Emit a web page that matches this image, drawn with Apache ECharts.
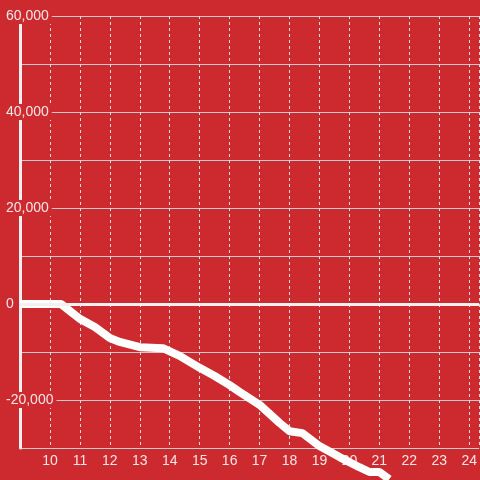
<!DOCTYPE html>
<html>
<head>
    <meta charset="utf-8">
    <title>ECharts</title>
    <script src="https://cdn.jsdelivr.net/npm/echarts@6/dist/echarts.min.js"></script>
</head>
<style>
html,
body {
    margin: 0px;
    width: 100%;
    height: 100%;
    background: #cd2a2f;
}
div#main {
    width: 480px;
    height: 480px;
}
</style>
<body>
    <div id="main"></div>
    <script type="text/javascript">
        // hour of day and running total
        var hours = [9.0, 10.37, 11.0, 11.5, 12.0, 12.33, 13.0, 13.77, 14.33, 15.0, 15.5, 16.0, 16.33, 17.0, 17.67, 18.0, 18.43, 19.0, 19.67, 20.33, 20.67, 21.0, 21.33];
        var values = [0, 0, -3100, -4800, -7100, -7900, -9000, -9200, -10800, -13300, -15000, -16900, -18300, -21000, -24800, -26500, -26900, -29600, -31900, -34000, -35000, -35000, -36500];
        var yTicks = [-20000, 0, 20000, 40000, 60000];

        var red = '#cd2a2f';
        var myChart = echarts.init(document.getElementById('main'));
        myChart.setOption({
            backgroundColor: red,
            animation: false,
            grid: { left: 20, right: 0, top: 16, bottom: 32 },
            xAxis: {
                type: 'value',
                min: 9,
                max: 9 + 460 / 30,
                interval: 1,
                axisLine: { show: true, lineStyle: { color: '#ccc', width: 1 } },
                axisTick: { show: false },
                axisLabel: {
                    color: '#f3e6e6', fontSize: 14, margin: 6,
                    fontFamily: 'Liberation Sans',
                    showMinLabel: false, showMaxLabel: false
                },
                splitLine: { show: true, lineStyle: { color: '#ddd', width: 1, type: [3, 3] } }
            },
            yAxis: {
                type: 'value',
                min: -30000,
                max: 60000,
                interval: 10000,
                axisLine: { show: true, onZero: false, lineStyle: { color: '#f5f0f0', width: 3 } },
                axisTick: { show: false },
                axisLabel: {
                    color: '#f3e6e6', fontSize: 14, margin: 14, align: 'left',
                    fontFamily: 'Liberation Sans',
                    backgroundColor: red, padding: [1, 3, 1, 0],
                    formatter: function (v) {
                        return yTicks.indexOf(v) >= 0 ? v.toLocaleString('en-US') : '';
                    }
                },
                splitLine: { show: true, lineStyle: { color: '#ccc', width: 1 } }
            },
            series: [{
                type: 'line',
                data: hours.map(function (h, i) { return [h, values[i]]; }),
                showSymbol: false,
                clip: false,
                lineStyle: { color: '#fff', width: 8 },
                markLine: {
                    silent: true,
                    symbol: 'none',
                    label: { show: false },
                    lineStyle: { color: '#f5f0f0', width: 3, type: 'solid' },
                    data: [{ yAxis: 0 }]
                }
            }]
        });
    </script>
</body>
</html>
